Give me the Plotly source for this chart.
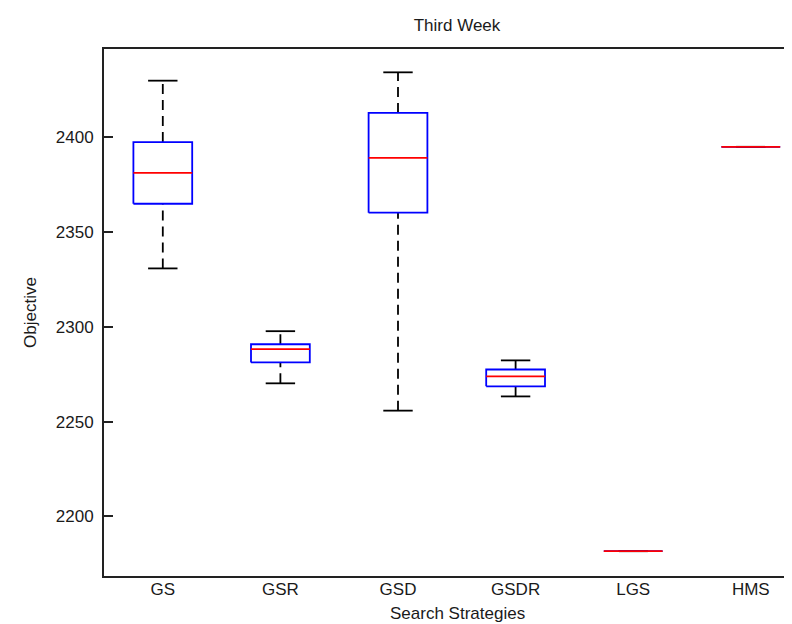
import plotly.graph_objects as go

categories = ["GS", "GSR", "GSD", "GSDR", "LGS", "HMS"]
upper_whisker = [2429.8, 2297.7, 2434.2, 2282.3, 2181.7, 2394.9]
q3 = [2397.4, 2290.8, 2412.8, 2277.5, 2181.7, 2394.9]
median = [2381.2, 2288.2, 2389.1, 2273.9, 2181.7, 2394.9]
q1 = [2364.9, 2281.2, 2360.2, 2268.6, 2181.7, 2394.9]
lower_whisker = [2330.8, 2270.2, 2255.8, 2263.3, 2181.7, 2394.9]
y_ticks = [2200, 2250, 2300, 2350, 2400]

BOX_HALF = 0.25
CAP_HALF = 0.125
positions = list(range(1, len(categories) + 1))

wx, wy, cx, cy, bx, by, mx, my = [], [], [], [], [], [], [], []
for p, lo, a, m, b, hi in zip(positions, lower_whisker, q1, median, q3, upper_whisker):
    wx += [p, p, None, p, p, None]
    wy += [b, hi, None, lo, a, None]
    cx += [p - CAP_HALF, p + CAP_HALF, None, p - CAP_HALF, p + CAP_HALF, None]
    cy += [hi, hi, None, lo, lo, None]
    bx += [p - BOX_HALF, p + BOX_HALF, p + BOX_HALF, p - BOX_HALF, p - BOX_HALF, None]
    by += [a, a, b, b, a, None]
    mx += [p - BOX_HALF, p + BOX_HALF, None]
    my += [m, m, None]

fig = go.Figure()
fig.add_trace(go.Scatter(x=wx, y=wy, mode="lines", line=dict(color="black", width=1.8, dash="10px,6px"),
                         hoverinfo="skip", showlegend=False))
fig.add_trace(go.Scatter(x=cx, y=cy, mode="lines", line=dict(color="black", width=1.8),
                         hoverinfo="skip", showlegend=False))
fig.add_trace(go.Scatter(x=bx, y=by, mode="lines", line=dict(color="#0000ff", width=1.8),
                         hoverinfo="skip", showlegend=False))
fig.add_trace(go.Scatter(x=mx, y=my, mode="lines", line=dict(color="#ff0000", width=1.8),
                         hoverinfo="skip", showlegend=False))

# layout geometry (pixels)
L, R, T, B = 96, 0, 41, 56
W, H = 792, 624
PW, PH = W - L - R, H - T - B
PX_PER_UNIT = 117.6

def px_x(px):
    return (px - L) / PW

def px_y(py):
    return (H - B - py) / PH

FS = 17
font_family = "Liberation Sans, Arial, sans-serif"
fig.update_layout(
    width=W, height=H,
    margin=dict(l=L, r=R, t=T, b=B),
    paper_bgcolor="white", plot_bgcolor="white",
    font=dict(family=font_family, size=FS, color="#1a1a1a"),
    title=dict(text="Third Week", x=(96 + 802) / 2 / W, xanchor="center",
               y=1 - 17 / H, yanchor="middle", font=dict(size=FS)),
    xaxis=dict(
        range=[0.5, 0.5 + PW / PX_PER_UNIT],
        tickmode="array", tickvals=positions, ticktext=categories,
        ticks="", ticklabelstandoff=-3,
        showgrid=False, zeroline=False,
        showline=True, linecolor="#222222", linewidth=2, mirror=True,
    ),
    yaxis=dict(
        range=[2168.6, 2446.5],
        tickmode="array", tickvals=y_ticks,
        ticks="inside", ticklen=9, tickwidth=1.5, tickcolor="#222222",
        ticklabelstandoff=5,
        showgrid=False, zeroline=False,
        showline=True, linecolor="#222222", linewidth=2, mirror=False,
    ),
    annotations=[
        dict(text="Search Strategies", xref="paper", yref="paper",
             x=px_x(449), y=px_y(605), xanchor="center", yanchor="middle",
             showarrow=False, font=dict(size=FS)),
        dict(text="Objective", xref="paper", yref="paper",
             x=px_x(22), y=px_y(305), xanchor="center", yanchor="middle",
             textangle=-90, showarrow=False, font=dict(size=FS)),
    ],
)

fig.write_html("out.html")
